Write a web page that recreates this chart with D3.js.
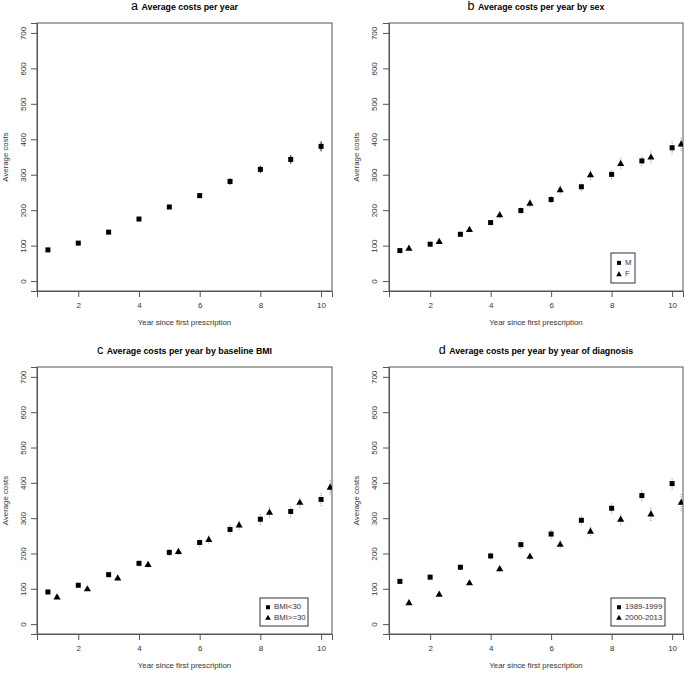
<!DOCTYPE html>
<html><head><meta charset="utf-8">
<script src="https://cdn.jsdelivr.net/npm/d3@7"></script>
<style>
body{margin:0;background:#fff;}
svg{font-family:"Liberation Sans",Arial,Helvetica,sans-serif;}
</style></head>
<body>
<svg id="chart" width="685" height="673"></svg>
<script>
// ---- data ----
const years = [1,2,3,4,5,6,7,8,9,10];
const xTicks = [2,4,6,8,10];
const yTicks = [0,100,200,300,400,500,600,700];

const allCosts = [88,107,138,175,209,241,281,315,343,380];
const allErr   = [4,4,5,5,6,7,9,10,12,14];

const maleCosts   = [86,104,132,165,199,230,266,301,339,376];
const maleErr     = [5,5,6,7,9,10,12,13,15,18];
const femaleCosts = [93,112,146,187,220,258,300,332,350,387];
const femaleErr   = [6,7,8,10,12,14,15,17,18,20];

const bmiLowCosts  = [91,110,140,172,203,231,268,297,319,353];
const bmiLowErr    = [5,6,7,9,10,12,14,16,17,19];
const bmiHighCosts = [77,100,131,169,206,240,281,317,345,388];
const bmiHighErr   = [5,6,7,9,10,12,14,16,17,22];

const earlyCosts = [121,133,161,193,225,255,294,328,364,398];
const earlyErr   = [6,7,8,10,12,13,14,15,16,17];
const lateCosts  = [61,85,117,157,192,226,263,297,312,345];
const lateErr    = [4,5,6,8,10,12,14,17,20,25];

const panels = [
  {letter:"a", title:"Average costs per year", box:[37,332,23,291], ytl:24, ytitle:6, dotted:false,
   series:[{name:null, shape:"square", dx:0, v:allCosts, e:allErr}], legend:null},
  {letter:"b", title:"Average costs per year by sex", box:[389,683,23,291], ytl:375, ytitle:357, dotted:true,
   series:[{name:"M", shape:"square", dx:0, v:maleCosts, e:maleErr},
           {name:"F", shape:"triangle", dx:0.3, v:femaleCosts, e:femaleErr}],
   legend:[611,635,253,283]},
  {letter:"c", title:"Average costs per year by baseline BMI", box:[37,332,367,634], ytl:24, ytitle:6, dotted:true,
   series:[{name:"BMI<30", shape:"square", dx:0, v:bmiLowCosts, e:bmiLowErr},
           {name:"BMI>=30", shape:"triangle", dx:0.3, v:bmiHighCosts, e:bmiHighErr}],
   legend:[260,308,598,626]},
  {letter:"d", title:"Average costs per year by year of diagnosis", box:[389,683,367,634], ytl:375, ytitle:357, dotted:true,
   series:[{name:"1989-1999", shape:"square", dx:0, v:earlyCosts, e:earlyErr},
           {name:"2000-2013", shape:"triangle", dx:0.3, v:lateCosts, e:lateErr}],
   legend:[611,665,598,626]}
];

const svg = d3.select("#chart");
const tri = d3.symbol().type(d3.symbolTriangle).size(22);

function marker(g, shape, x, y){
  if(shape==="square"){
    g.append("rect").attr("x",x-2.5).attr("y",y-2.5).attr("width",5).attr("height",5).attr("fill","#000");
  } else {
    g.append("path").attr("d",tri).attr("transform",`translate(${x},${y+0.5})`).attr("fill","#000");
  }
}

panels.forEach(p=>{
  const [L,R,T,B] = p.box;
  const x = d3.scaleLinear().domain([0.64,10.36]).range([L,R]);
  const y = d3.scaleLinear().domain([-28,728]).range([B,T]);
  const g = svg.append("g");

  // box
  g.append("rect").attr("x",L).attr("y",T).attr("width",R-L).attr("height",B-T)
   .attr("fill","none").attr("stroke","#555").attr("stroke-width",1);

  // axes
  const xa = g.append("g").attr("transform",`translate(0,${B})`)
    .call(d3.axisBottom(x).tickValues(xTicks).tickSize(6).tickPadding(3).tickFormat(d3.format("d")));
  const ya = g.append("g").attr("transform",`translate(${L},0)`)
    .call(d3.axisLeft(y).tickValues(yTicks).tickSize(6).tickPadding(3).tickFormat(d3.format("d")));
  [xa,ya].forEach(a=>{
    a.select(".domain").attr("stroke","#555");
    a.selectAll(".tick line").attr("stroke","#555");
    a.selectAll("text").attr("font-size",8).attr("fill","#333")
     .attr("font-family","'Liberation Sans',Arial,sans-serif");
  });
  xa.selectAll("text").attr("dy",null).attr("y",null).attr("dominant-baseline","middle")
    .attr("transform",`translate(0,${15})`);
  ya.selectAll(".tick text").attr("x",null).attr("dy",null).attr("text-anchor","middle")
    .attr("dominant-baseline","middle")
    .attr("transform",`translate(${p.ytl-L},0) rotate(-90)`);

  // axis titles
  g.append("text").attr("x",(L+R)/2).attr("y",B+32).attr("text-anchor","middle")
   .attr("dominant-baseline","middle").attr("font-size",7.8).attr("fill","#333")
   .text("Year since first prescription");
  g.append("text").attr("transform",`translate(${p.ytitle},${(T+B)/2}) rotate(-90)`)
   .attr("text-anchor","middle").attr("dominant-baseline","middle").attr("font-size",7.8).attr("fill","#333")
   .text("Average costs");

  // title
  const t = g.append("text").attr("x",(L+R)/2).attr("y",T-13).attr("text-anchor","middle")
   .attr("fill","#000");
  t.append("tspan").attr("font-size",12.5).text(p.letter+" ");
  t.append("tspan").attr("font-size",8.8).attr("font-weight","bold").text(p.title);

  // data
  const clip = "clip-"+p.letter;
  g.append("clipPath").attr("id",clip).append("rect").attr("x",L).attr("y",T).attr("width",R-L).attr("height",B-T);
  const dg = g.append("g").attr("clip-path",`url(#${clip})`);
  p.series.forEach(s=>{
    years.forEach((yr,i)=>{
      const cx = x(yr+s.dx), cy = y(s.v[i]);
      dg.append("line").attr("x1",cx).attr("x2",cx)
        .attr("y1",y(s.v[i]-s.e[i])).attr("y2",y(s.v[i]+s.e[i]))
        .attr("stroke",p.dotted?"#888":"#111").attr("stroke-width",1)
        .attr("stroke-dasharray",p.dotted?"1,1":null);
      marker(dg,s.shape,cx,cy);
    });
  });

  // legend
  if(p.legend){
    const [lx0,lx1,ly0,ly1] = p.legend;
    g.append("rect").attr("x",lx0).attr("y",ly0).attr("width",lx1-lx0).attr("height",ly1-ly0)
     .attr("fill","#fff").attr("stroke","#333").attr("stroke-width",1);
    p.series.forEach((s,i)=>{
      const yy = ly0 + (ly1-ly0)*(i===0?0.33:0.7);
      const sg = g.append("g");
      if(s.shape==="square"){
        sg.append("rect").attr("x",lx0+6).attr("y",yy-2).attr("width",4).attr("height",4).attr("fill","#000");
      } else {
        sg.append("path").attr("d",d3.symbol().type(d3.symbolTriangle).size(14))
          .attr("transform",`translate(${lx0+8},${yy+0.5})`).attr("fill","#000");
      }
      g.append("text").attr("x",lx0+14).attr("y",yy).attr("dominant-baseline","middle")
       .attr("font-size",7.8).attr("fill","#333").text(s.name);
    });
  }
});
</script>
</body></html>
